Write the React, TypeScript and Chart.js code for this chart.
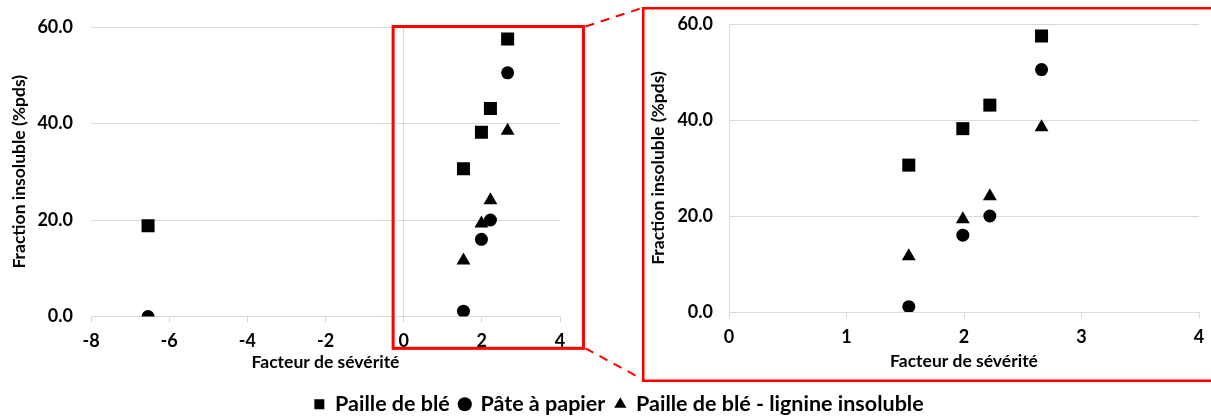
import React, { useEffect, useRef } from 'react';
import { Chart, registerables } from 'chart.js';

Chart.register(...registerables);

// ---- data ----
const SEVERITY = [-6.54, 1.53, 1.99, 2.22, 2.66];
const PAILLE = [18.8, 30.6, 38.2, 43.1, 57.5];
const PATE = [0.0, 1.1, 16.0, 20.0, 50.5];
const LIGNINE: (number | null)[] = [null, 11.6, 19.3, 24.1, 38.5];
const SERIES_NAMES = ['Paille de blé', 'Pâte à papier', 'Paille de blé - lignine insoluble'];
const SERIES_STYLES = ['rect', 'circle', 'triangle'];
const Y_TITLE = 'Fraction insoluble (%pds)';
const X_TITLE = 'Facteur de sévérité';
const FULL_X_RANGE = [-8, 4];
const FULL_X_STEP = 2;
const ZOOM_X_RANGE = [0, 4];
const ZOOM_X_STEP = 1;
const Y_RANGE = [0, 60];
const Y_STEP = 20;
// region highlighted on the full chart (data units)
const ZOOM_BOX_X = [-0.27, 4.6];
const ZOOM_BOX_Y = [-6.6, 60.1];

const FONT = 'Lato, "Open Sans", sans-serif';
const GRID = '#d9d9d9';
const RED = '#ff0000';

const RIGHT_LEFT = 642;
const RIGHT_TOP = 7;
const RIGHT_W = 574;
const RIGHT_H = 375;

function makeDatasets() {
  const series = [PAILLE, PATE, LIGNINE];
  const radii = [9.2, 6.5, 8];
  return series.map((vals, i) => ({
    label: SERIES_NAMES[i],
    data: SEVERITY.map((x, j) => ({ x, y: vals[j] })).filter((p) => p.y !== null),
    pointStyle: SERIES_STYLES[i] as any,
    pointRadius: radii[i],
    pointBackgroundColor: '#000',
    pointBorderColor: '#000',
    pointBorderWidth: 0,
    backgroundColor: '#000',
    borderColor: '#000',
    showLine: false,
  }));
}

function xAxis(range: number[], step: number, height: number, tickPad: number) {
  return {
    type: 'linear' as const,
    min: range[0],
    max: range[1],
    afterFit: (s: any) => {
      s.height = height;
    },
    ticks: {
      stepSize: step,
      color: '#000',
      font: { family: FONT, size: 18, weight: 'bold' as const },
      padding: tickPad,
      maxRotation: 0,
    },
    grid: {
      color: (c: any) => (c.tick && c.tick.value === 0 ? GRID : 'rgba(0,0,0,0)'),
      tickColor: GRID,
      tickLength: 6,
      lineWidth: 1,
    },
    border: { display: true, color: GRID, width: 1 },
    title: {
      display: true,
      text: X_TITLE,
      color: '#000',
      font: { family: FONT, size: 17.5, weight: 'bold' as const },
      padding: { top: 4, bottom: 10.5 },
    },
  };
}

function yAxis(width: number, tickGap: number, titlePad: number) {
  return {
    type: 'linear' as const,
    min: Y_RANGE[0],
    max: Y_RANGE[1],
    afterFit: (s: any) => {
      s.width = width;
    },
    ticks: {
      stepSize: Y_STEP,
      color: '#000',
      font: { family: FONT, size: 18, weight: 'bold' as const },
      padding: 2,
      callback: (v: any) => Number(v).toFixed(1),
    },
    grid: {
      color: GRID,
      drawTicks: true,
      tickLength: tickGap - 2,
      tickColor: 'rgba(0,0,0,0)',
      lineWidth: 1,
    },
    border: { display: false },
    title: {
      display: true,
      text: Y_TITLE,
      color: '#000',
      font: { family: FONT, size: 17.5, weight: 'bold' as const },
      padding: { top: titlePad, bottom: 0 },
    },
  };
}

const overlayPlugin = {
  id: 'zoomOverlay',
  afterDraw(chart: any) {
    const { ctx, scales } = chart;
    const xs = scales.x;
    const ys = scales.y;
    const x1 = xs.getPixelForValue(ZOOM_BOX_X[0]);
    const x2 = xs.getPixelForValue(ZOOM_BOX_X[1]);
    const y1 = ys.getPixelForValue(ZOOM_BOX_Y[1]);
    const y2 = ys.getPixelForValue(ZOOM_BOX_Y[0]);
    ctx.save();
    ctx.strokeStyle = RED;
    ctx.lineWidth = 3;
    ctx.strokeRect(x1, y1, x2 - x1, y2 - y1);
    ctx.lineWidth = 2;
    ctx.setLineDash([9, 7]);
    ctx.beginPath();
    ctx.moveTo(x2 + 2, y1);
    ctx.lineTo(RIGHT_LEFT, RIGHT_TOP + 1);
    ctx.moveTo(x2 + 2, y2);
    ctx.lineTo(RIGHT_LEFT, RIGHT_TOP + RIGHT_H - 3);
    ctx.stroke();
    ctx.restore();
  },
};

const borderPlugin = {
  id: 'panelBorder',
  afterDraw(chart: any) {
    const { ctx, width, height } = chart;
    ctx.save();
    ctx.strokeStyle = RED;
    ctx.lineWidth = 2.5;
    ctx.strokeRect(1.25, 1.25, width - 2.5, height - 2.5);
    ctx.restore();
  },
};

export default function App() {
  const leftRef = useRef<HTMLCanvasElement>(null);
  const rightRef = useRef<HTMLCanvasElement>(null);

  useEffect(() => {
    const left = new Chart(leftRef.current as HTMLCanvasElement, {
      type: 'scatter',
      data: { datasets: makeDatasets() as any },
      options: {
        animation: false,
        responsive: false,
        devicePixelRatio: 1,
        layout: { padding: { left: 0, top: 27, right: 0, bottom: -6 } },
        scales: {
          x: xAxis(FULL_X_RANGE, FULL_X_STEP, 67, 8) as any,
          y: yAxis(91, 18, 8.5) as any,
          y2: {
            type: 'linear',
            position: 'right',
            afterFit: (s: any) => {
              s.width = 1238 - 560;
            },
            ticks: { display: false },
            grid: { display: false },
            border: { display: false },
          } as any,
        },
        plugins: {
          legend: {
            display: true,
            position: 'bottom',
            labels: {
              usePointStyle: true,
              boxWidth: 10,
              boxHeight: 10,
              padding: 10,
              color: '#000',
              font: { family: FONT, size: 21.5, weight: 'bold' },
            },
          },
          tooltip: { enabled: false },
        },
      },
      plugins: [overlayPlugin],
    });

    const right = new Chart(rightRef.current as HTMLCanvasElement, {
      type: 'scatter',
      data: { datasets: makeDatasets() as any },
      options: {
        animation: false,
        responsive: false,
        devicePixelRatio: 1,
        layout: { padding: { left: 0, top: 24 - RIGHT_TOP, right: RIGHT_LEFT + RIGHT_W - 1199, bottom: 0 } },
        scales: {
          x: xAxis(ZOOM_X_RANGE, ZOOM_X_STEP, RIGHT_TOP + RIGHT_H - 312, 8) as any,
          y: yAxis(729 - RIGHT_LEFT, 16, 5.5) as any,
        },
        plugins: {
          legend: { display: false },
          tooltip: { enabled: false },
        },
      },
      plugins: [borderPlugin],
    });

    return () => {
      left.destroy();
      right.destroy();
    };
  }, []);

  return (
    <div
      style={{
        position: 'absolute',
        left: 0,
        top: 0,
        width: 1211,
        height: 419,
        overflow: 'hidden',
        background: '#fff',
      }}
    >
      <canvas
        ref={leftRef}
        width={1238}
        height={419}
        style={{ position: 'absolute', left: 0, top: 0, width: 1238, height: 419 }}
      />
      <canvas
        ref={rightRef}
        width={RIGHT_W}
        height={RIGHT_H}
        style={{ position: 'absolute', left: RIGHT_LEFT, top: RIGHT_TOP, width: RIGHT_W, height: RIGHT_H }}
      />
    </div>
  );
}
